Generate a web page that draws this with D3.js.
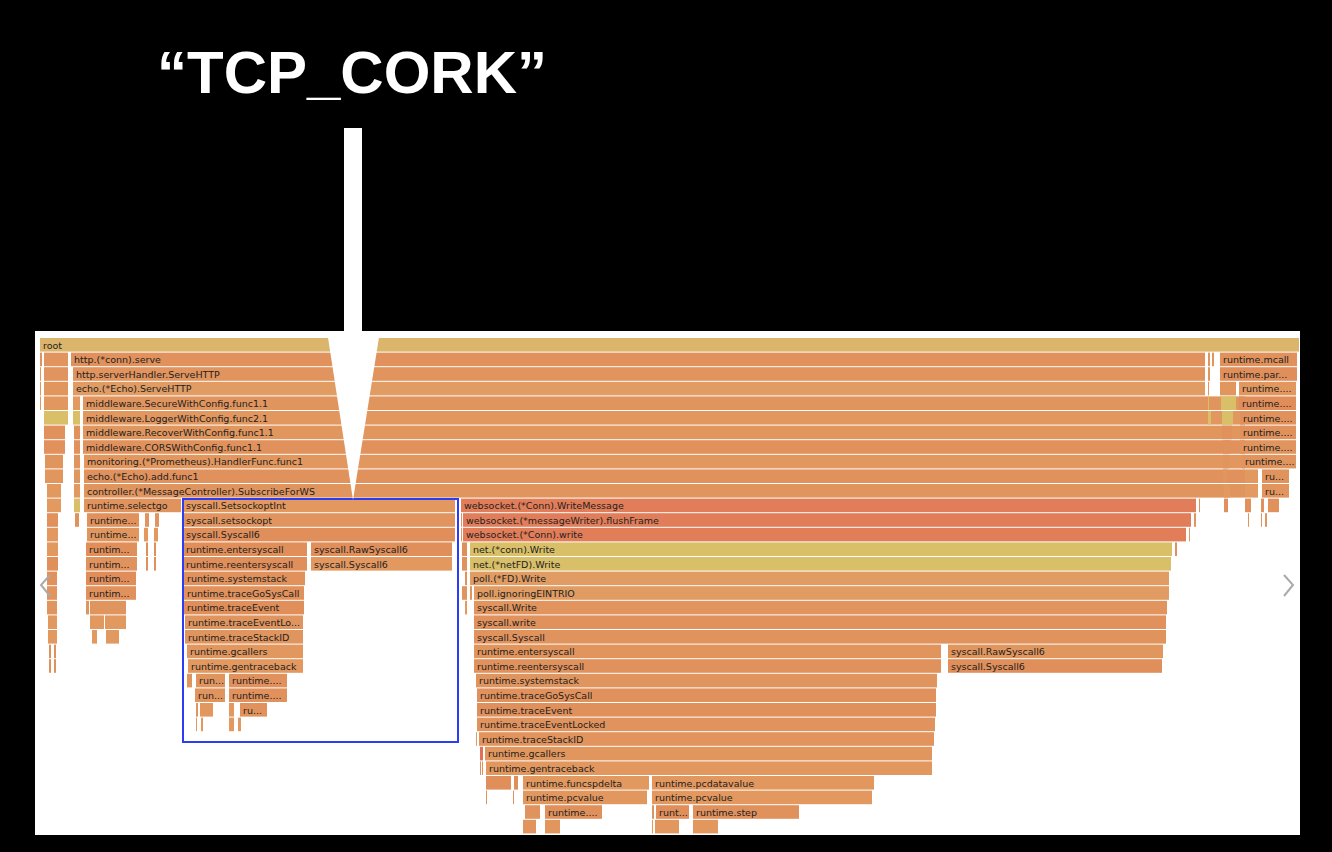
<!DOCTYPE html>
<html>
<head>
<meta charset="utf-8">
<title>TCP_CORK flame graph</title>
<script src="https://cdn.jsdelivr.net/npm/d3@7"></script>
<style>
  body { margin: 0; background: #000; }
  svg { display: block; }
  .lbl { font-family: "DejaVu Sans", Verdana, sans-serif; font-size: 9.5px; fill: #222; }
</style>
</head>
<body>
<svg id="chart" width="1332" height="852"></svg>
<script>
// frames: label, depth, start sample, width in samples (total 1260)
var frameNames = [
  "root",
  "", "", "http.(*conn).serve", "", "", "runtime.mcall",
  "", "", "http.serverHandler.ServeHTTP", "", "runtime.par...",
  "", "", "echo.(*Echo).ServeHTTP", "", "", "runtime....",
  "", "", "", "middleware.SecureWithConfig.func1.1", "", "", "runtime....",
  "", "", "middleware.LoggerWithConfig.func2.1", "", "", "runtime....",
  "", "", "middleware.RecoverWithConfig.func1.1", "", "runtime....",
  "", "", "middleware.CORSWithConfig.func1.1", "", "runtime....",
  "", "", "monitoring.(*Prometheus).HandlerFunc.func1", "", "runtime....",
  "", "", "echo.(*Echo).add.func1", "", "", "ru...",
  "", "", "controller.(*MessageController).SubscribeForWS", "", "", "ru...",
  "", "", "runtime.selectgo", "syscall.SetsockoptInt", "websocket.(*Conn).WriteMessage", "", "", "", "", "",
  "", "", "runtime...", "", "", "syscall.setsockopt", "", "websocket.(*messageWriter).flushFrame", "", "", "", "",
  "", "runtime...", "", "", "syscall.Syscall6", "", "websocket.(*Conn).write", "",
  "", "runtim...", "", "", "runtime.entersyscall", "syscall.RawSyscall6", "", "net.(*conn).Write", "",
  "", "runtim...", "", "", "runtime.reentersyscall", "syscall.Syscall6", "", "net.(*netFD).Write",
  "", "runtim...", "runtime.systemstack", "", "poll.(*FD).Write",
  "", "runtim...", "runtime.traceGoSysCall", "", "", "poll.ignoringEINTRIO",
  "", "", "", "runtime.traceEvent", "", "syscall.Write",
  "", "", "", "runtime.traceEventLo...", "syscall.write",
  "", "", "", "runtime.traceStackID", "syscall.Syscall",
  "", "", "runtime.gcallers", "runtime.entersyscall", "syscall.RawSyscall6",
  "", "", "runtime.gentraceback", "runtime.reentersyscall", "syscall.Syscall6",
  "", "run...", "runtime....", "runtime.systemstack",
  "run...", "runtime....", "runtime.traceGoSysCall",
  "", "", "", "ru...", "runtime.traceEvent",
  "", "", "", "", "runtime.traceEventLocked",
  "", "runtime.traceStackID",
  "", "runtime.gcallers",
  "", "", "runtime.gentraceback",
  "", "", "runtime.funcspdelta", "runtime.pcdatavalue",
  "", "", "runtime.pcvalue", "runtime.pcvalue",
  "", "runtime....", "", "runt...", "runtime.step",
  "", "", "", "", ""
];
var frameDepth = [
  0,
  1,1,1,1,1,1,
  2,2,2,2,2,
  3,3,3,3,3,3,
  4,4,4,4,4,4,4,
  5,5,5,5,5,5,
  6,6,6,6,6,
  7,7,7,7,7,
  8,8,8,8,8,
  9,9,9,9,9,9,
  10,10,10,10,10,10,
  11,11,11,11,11,11,11,11,11,11,
  12,12,12,12,12,12,12,12,12,12,12,12,
  13,13,13,13,13,13,13,13,
  14,14,14,14,14,14,14,14,14,
  15,15,15,15,15,15,15,15,
  16,16,16,16,16,
  17,17,17,17,17,17,
  18,18,18,18,18,18,
  19,19,19,19,19,
  20,20,20,20,20,
  21,21,21,21,21,
  22,22,22,22,22,
  23,23,23,23,
  24,24,24,
  25,25,25,25,25,
  26,26,26,26,26,
  27,27,
  28,28,
  29,29,29,
  30,30,30,30,
  31,31,31,31,
  32,32,32,32,32,
  33,33,33,33,33
];
var frameStart = [
  0,
  0,4,31,1168,1172,1180,
  0,4,33,1168,1180,
  0,4,33,1168,1180,1199,
  0,4,33,43,1168,1181,1199,
  4,33,43,1168,1182,1200,
  4,34,43,1182,1200,
  4,34,43,1183,1200,
  5,34,44,1183,1202,
  5,34,44,1183,1205,1222,
  7,34,44,1184,1205,1222,
  7,34,44,143,421,1159,1184,1205,1221,1228,
  7,35,47,105,115,143,421,423,1154,1208,1221,1225,
  7,47,104,114,143,421,423,1149,
  7,46,106,114,143,271,422,430,1135,
  7,46,106,114,143,271,422,430,
  7,46,144,425,430,
  7,46,144,422,430,434,
  7,46,50,144,425,434,
  8,50,65,145,434,
  8,52,66,145,434,
  9,14,147,434,908,
  9,14,148,434,908,
  147,156,189,436,
  155,189,437,
  156,160,189,200,437,
  156,161,189,198,437,
  436,439,
  440,445,
  440,442,446,
  446,474,483,612,
  446,473,483,612,
  485,505,612,616,653,
  483,505,612,615,653
];
var frameWidth = [
  1260,
  3,25,1135,3,3,78,
  2,25,1133,3,78,
  2,25,1133,2,17,58,
  2,25,8,1163,2,16,58,
  25,8,1163,4,12,57,
  22,7,1163,11,57,
  22,7,1163,9,57,
  19,7,1162,7,55,
  19,7,1162,5,14,28,
  15,7,1162,7,14,28,
  15,7,98,273,736,2,5,7,4,12,
  12,5,53,5,5,273,2,729,3,2,2,3,
  12,53,5,5,273,2,724,2,
  12,52,3,3,125,142,6,703,3,
  12,52,3,3,125,142,6,702,
  11,51,122,3,700,
  11,51,121,6,3,696,
  11,4,37,121,3,694,
  10,15,22,119,693,
  10,6,14,119,693,
  3,3,117,468,216,
  3,3,116,468,215,
  6,30,59,462,
  31,59,460,
  3,14,6,28,460,
  2,3,6,4,459,
  2,456,
  4,448,
  2,2,447,
  26,5,127,223,
  2,2,125,221,
  16,58,3,34,107,
  14,16,2,25,26
];

var W = 1332, H = 852;
var rowH = 14.6, graphTop = 338;
var svg = d3.select("#chart");

svg.append("rect").attr("x", 35).attr("y", 331).attr("width", 1265).attr("height", 504).attr("fill", "#fff");

var x = d3.scaleLinear().domain([0, 1260]).range([40, 1300]);
var y = function(d) { return graphTop + d * rowH; };

function frameColor(name, i) {
  var h = 0, s = name + i;
  for (var k = 0; k < s.length; k++) h = (h * 31 + s.charCodeAt(k)) >>> 0;
  var v = (h % 100) / 100;
  if (name === "root") return "#dab56b";
  if (name.indexOf("websocket") === 0) return "#e27d59";
  if (name.indexOf("net.") === 0) return "#d9bf68";
  if (name.indexOf("echo.(*Echo).ServeHTTP") === 0 || name.indexOf("poll.") === 0) return "#e09c62";
  if (name === "") {
    if (v < 0.08) return "#d9bf68";
    if (v < 0.14) return "#e36f55";
  }
  return d3.interpolateRgb("#e08d5a", "#e29a60")(v);
}

var frames = frameNames.map(function(n, i) {
  return { name: n, depth: frameDepth[i], start: frameStart[i], width: frameWidth[i], i: i };
});

// clip graph bottom
svg.append("clipPath").attr("id", "panel").append("rect")
  .attr("x", 35).attr("y", 331).attr("width", 1265).attr("height", 504);

svg.append("defs").selectAll("clipPath").data(frames).join("clipPath")
  .attr("id", function(d) { return "c" + d.i; })
  .append("rect")
  .attr("x", function(d) { return x(d.start); })
  .attr("y", function(d) { return y(d.depth); })
  .attr("width", function(d) { return Math.max(0, x(d.start + d.width) - x(d.start) - 1); })
  .attr("height", rowH);

var g = svg.append("g").attr("clip-path", "url(#panel)").selectAll("g").data(frames).join("g");
g.append("rect")
  .attr("x", function(d) { return x(d.start); })
  .attr("y", function(d) { return y(d.depth); })
  .attr("width", function(d) { return Math.max(0.8, x(d.start + d.width) - x(d.start) - 1); })
  .attr("height", rowH - 1)
  .attr("fill", function(d) { return frameColor(d.name, d.i); });
g.filter(function(d) { return d.name !== ""; }).append("text")
  .attr("class", "lbl")
  .attr("x", function(d) { return x(d.start) + 3; })
  .attr("y", function(d) { return y(d.depth) + 10.5; })
  .attr("clip-path", function(d) { return "url(#c" + d.i + ")"; })
  .text(function(d) { return d.name; });

// nav chevrons
svg.append("path").attr("d", "M50,575 L41,585 L50,596").attr("fill", "none").attr("stroke", "#aaa").attr("stroke-width", 2);
svg.append("path").attr("d", "M1284,575 L1293,585 L1284,596").attr("fill", "none").attr("stroke", "#aaa").attr("stroke-width", 2);

// highlight box
svg.append("rect").attr("x", 183).attr("y", 499).attr("width", 275).attr("height", 243)
  .attr("fill", "none").attr("stroke", "#2a3cf5").attr("stroke-width", 2);

// annotation
svg.append("text").attr("x", 352).attr("y", 93).attr("text-anchor", "middle")
  .attr("font-family", "Liberation Sans, Arial, sans-serif").attr("font-weight", "bold")
  .attr("font-size", 60).attr("fill", "#fff").text("\u201CTCP_CORK\u201D");
svg.append("rect").attr("x", 344).attr("y", 128).attr("width", 18).attr("height", 204).attr("fill", "#fff");
svg.append("path").attr("d", "M327,331 L380,331 L353,500 Z").attr("fill", "#fff");
</script>
</body>
</html>
